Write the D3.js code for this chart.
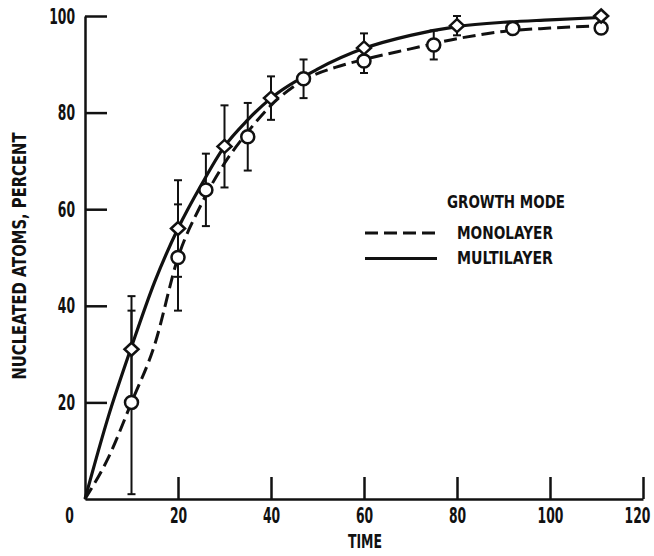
<!DOCTYPE html>
<html>
<head>
<meta charset="utf-8">
<script src="https://cdn.jsdelivr.net/npm/d3@7"></script>
<style>
  body { margin: 0; background: #fff; }
  text { font-family: "Liberation Sans Narrow", "DejaVu Sans Condensed", sans-serif; font-weight: bold; fill: #111; }
</style>
</head>
<body>
<div id="chart"></div>
<script>
// Data
const xTicks = [0, 20, 40, 60, 80, 100, 120]
const yTicks = [20, 40, 60, 80, 100]

// monolayer measurements (circles)
const monoTime = [10, 20, 26, 35, 47, 60, 75, 92, 111]
const monoValue = [20, 50, 64, 75, 87, 90.7, 94, 97.4, 97.5]
const monoErr = [19, 11, 7.5, 7, 4, 2.5, 3, 0, 0]

// multilayer measurements (diamonds)
const multiTime = [10, 20, 30, 40, 60, 80, 111]
const multiValue = [31, 56, 73, 83, 93.4, 98, 100]
const multiErr = [11, 10, 8.5, 4.5, 3, 2, 0]

// fitted curves
const monoCurveTime = [0, 5, 10, 15, 20, 25, 30, 35, 40, 47, 55, 60, 70, 80, 90, 100, 111]
const monoCurveValue = [0, 8.5, 20, 32, 50, 61, 69.5, 76, 81.5, 86.7, 89.7, 91, 93.2, 95.3, 96.8, 97.5, 98]
const multiCurveTime = [0, 5, 10, 15, 20, 25, 30, 35, 40, 50, 60, 70, 80, 90, 100, 111]
const multiCurveValue = [0, 17, 31.5, 45, 56, 65, 73, 78.5, 83, 89, 93.3, 96, 97.8, 98.7, 99.2, 99.7]

const legendLabels = ['MONOLAYER', 'MULTILAYER']

function draw() {
  let dimensions = {
    width: 654,
    height: 556,
    left: 85,
    right: 643,
    top: 16,
    bottom: 499,
  }

  const svg = d3.select('#chart')
    .append('svg')
    .attr('width', dimensions.width)
    .attr('height', dimensions.height)

  // Scales
  const x = d3.scaleLinear().domain([0, 120]).range([dimensions.left, dimensions.right])
  const y = d3.scaleLinear().domain([0, 100]).range([dimensions.bottom, dimensions.top])

  // Axes
  const xAxis = d3.axisBottom(x)
    .tickValues(xTicks)
    .tickSizeInner(-22)
    .tickSizeOuter(0)
    .tickPadding(8)
    .tickFormat(d3.format('d'))

  const xg = svg.append('g')
    .attr('transform', `translate(0, ${dimensions.bottom})`)
    .call(xAxis)
  xg.selectAll('.tick').filter(d => d === 0).select('line').remove()
  xg.selectAll('.tick').filter(d => d === 0).select('text').attr('x', -16)
  xg.selectAll('.tick').filter(d => d === 120).select('text').attr('x', -6)

  const yAxis = d3.axisLeft(y)
    .tickValues(yTicks)
    .tickSizeInner(-22)
    .tickSizeOuter(0)
    .tickPadding(10)

  svg.append('g')
    .attr('transform', `translate(${dimensions.left}, 0)`)
    .call(yAxis)

  svg.selectAll('.domain, .tick line')
    .attr('stroke', '#111')
    .attr('stroke-width', 2.5)
  // narrow, tall digits as in the original lettering
  svg.selectAll('.tick text')
    .attr('font-size', 22)
    .attr('fill', '#111')
    .attr('textLength', d => String(d).length * 8.6)
    .attr('lengthAdjust', 'spacingAndGlyphs')
    .style('font-family', '"Liberation Sans Narrow", "DejaVu Sans Condensed", sans-serif')
    .style('font-weight', 'bold')

  // Axis titles
  svg.append('text')
    .attr('x', 365)
    .attr('y', 541)
    .attr('dy', '0.35em')
    .attr('text-anchor', 'middle')
    .attr('font-size', 20)
    .attr('textLength', 34)
    .attr('lengthAdjust', 'spacingAndGlyphs')
    .text('TIME')

  svg.append('text')
    .attr('transform', 'translate(19, 256) rotate(-90)')
    .attr('dy', '0.35em')
    .attr('text-anchor', 'middle')
    .attr('font-size', 19)
    .attr('textLength', 247)
    .attr('lengthAdjust', 'spacingAndGlyphs')
    .text('NUCLEATED ATOMS, PERCENT')

  // Curves
  const line = d3.line()
    .x(d => x(d[0]))
    .y(d => y(d[1]))
    .curve(d3.curveMonotoneX)

  svg.append('path')
    .datum(d3.zip(monoCurveTime, monoCurveValue))
    .attr('d', line)
    .attr('fill', 'none')
    .attr('stroke', '#111')
    .attr('stroke-width', 3)
    .attr('stroke-dasharray', '13,6')

  svg.append('path')
    .datum(d3.zip(multiCurveTime, multiCurveValue))
    .attr('d', line)
    .attr('fill', 'none')
    .attr('stroke', '#111')
    .attr('stroke-width', 3.2)

  // Error bars
  const bars = d3.zip(monoTime, monoValue, monoErr)
    .concat(d3.zip(multiTime, multiValue, multiErr))
    .filter(d => d[2] > 0)

  const errG = svg.append('g')
    .attr('stroke', '#111')
    .attr('stroke-width', 2)
  errG.selectAll('line.bar')
    .data(bars)
    .join('line')
    .attr('class', 'bar')
    .attr('x1', d => x(d[0]))
    .attr('x2', d => x(d[0]))
    .attr('y1', d => y(d[1] - d[2]))
    .attr('y2', d => y(d[1] + d[2]))
  errG.selectAll('line.capTop')
    .data(bars)
    .join('line')
    .attr('class', 'capTop')
    .attr('x1', d => x(d[0]) - 4)
    .attr('x2', d => x(d[0]) + 4)
    .attr('y1', d => y(d[1] + d[2]))
    .attr('y2', d => y(d[1] + d[2]))
  errG.selectAll('line.capBot')
    .data(bars)
    .join('line')
    .attr('class', 'capBot')
    .attr('x1', d => x(d[0]) - 4)
    .attr('x2', d => x(d[0]) + 4)
    .attr('y1', d => y(d[1] - d[2]))
    .attr('y2', d => y(d[1] - d[2]))

  // Markers
  svg.append('g')
    .selectAll('circle')
    .data(d3.zip(monoTime, monoValue))
    .join('circle')
    .attr('cx', d => x(d[0]))
    .attr('cy', d => y(d[1]))
    .attr('r', 6.5)
    .attr('fill', '#fff')
    .attr('stroke', '#111')
    .attr('stroke-width', 2.5)

  const diamond = 'M0,-6.5L7,0L0,6.5L-7,0Z'
  svg.append('g')
    .selectAll('path')
    .data(d3.zip(multiTime, multiValue))
    .join('path')
    .attr('transform', d => `translate(${x(d[0])}, ${y(d[1])})`)
    .attr('d', diamond)
    .attr('fill', '#fff')
    .attr('stroke', '#111')
    .attr('stroke-width', 2.5)

  // Legend
  const legend = svg.append('g')
  legend.append('text')
    .attr('x', 447)
    .attr('y', 202)
    .attr('dy', '0.35em')
    .attr('font-size', 18)
    .attr('textLength', 118)
    .attr('lengthAdjust', 'spacingAndGlyphs')
    .text('GROWTH MODE')

  legend.selectAll('text.item')
    .data(legendLabels)
    .join('text')
    .attr('class', 'item')
    .attr('x', 457)
    .attr('y', (d, i) => 233 + i * 25.5)
    .attr('dy', '0.35em')
    .attr('font-size', 17)
    .attr('textLength', 96)
    .attr('lengthAdjust', 'spacingAndGlyphs')
    .text(d => d)

  legend.selectAll('line')
    .data(legendLabels)
    .join('line')
    .attr('x1', 365)
    .attr('x2', 437)
    .attr('y1', (d, i) => 233 + i * 25.5)
    .attr('y2', (d, i) => 233 + i * 25.5)
    .attr('stroke', '#111')
    .attr('stroke-width', 3)
    .attr('stroke-dasharray', (d, i) => i === 0 ? '13,6' : null)
}

draw()
</script>
</body>
</html>
